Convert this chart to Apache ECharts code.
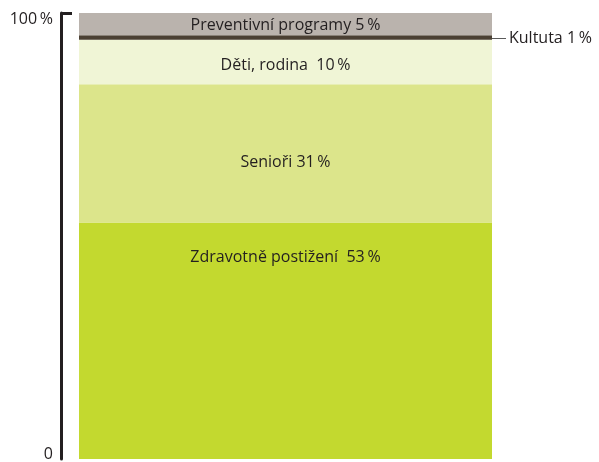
<!DOCTYPE html>
<html>
<head>
<meta charset="utf-8">
<script src="https://cdn.jsdelivr.net/npm/echarts@6/dist/echarts.min.js"></script>
<style>
    html, body { margin: 0; padding: 0; background: #fff; }
    #chart { width: 599px; height: 462px; }
</style>
</head>
<body>
<div id="chart"></div>
<script>
// segments, bottom to top
var names = ["Zdravotně postižení", "Senioři", "Děti, rodina", "Kultuta", "Preventivní programy"];
var values = [53, 31, 10, 1, 5];
var labels = ["Zdravotně postižení  53\u2009%", "Senioři 31\u2009%", "Děti, rodina  10\u2009%", "Kultuta 1\u2009%", "Preventivní programy 5\u2009%"];
var colors = ["#c3d92f", "#dce58b", "#f0f5d6", "#4b4033", "#bab3ad"];
var yTicks = [0, 100];

var chart = echarts.init(document.getElementById("chart"));

var font = "'Open Sans', sans-serif";
var fs = 16;
var labelCfg = [
    { show: true, position: "insideTop", distance: 27 },
    { show: true, position: "inside", offset: [0, 9] },
    { show: true, position: "inside", offset: [0, 3] },
    {
        show: true, position: "right", distance: 0, offset: [0, 1],
        formatter: "{line|}{t|" + labels[3] + "}",
        rich: {
            line: { width: 14, height: 1, backgroundColor: "#555" },
            t: { fontSize: fs, fontFamily: font, color: "#231f20", padding: [0, 0, 0, 3] }
        }
    },
    { show: true, position: "inside", offset: [0, 1] }
];

var series = names.map(function (n, i) {
    var lab = Object.assign({
        color: "#231f20",
        fontSize: fs,
        fontFamily: font,
        formatter: labels[i]
    }, labelCfg[i]);
    return {
        name: n,
        type: "bar",
        stack: "total",
        barWidth: 413,
        data: [values[i]],
        itemStyle: { color: colors[i] },
        label: lab,
        emphasis: { disabled: true }
    };
});

var option = {
    animation: false,
    grid: { left: 61, right: 89, top: 13, bottom: 0 },
    xAxis: {
        type: "category",
        data: ["Celkem"],
        show: false
    },
    yAxis: {
        type: "value",
        min: 0,
        max: 100,
        interval: 100,
        splitLine: { show: false },
        axisLine: { show: true, lineStyle: { color: "#231f20", width: 3 } },
        // only the top tick is drawn, the bottom one runs off the picture
        axisTick: { show: true, inside: true, length: 11, customValues: [yTicks[1]], lineStyle: { color: "#231f20", width: 3 } },
        axisLabel: {
            margin: 8,
            fontFamily: font,
            fontSize: fs,
            color: "#231f20",
            formatter: function (v) {
                if (v === yTicks[1]) return "{top|" + v + "\u2009%}";
                return "{bot|" + v + "}";
            },
            rich: {
                top: { fontSize: fs, fontFamily: font, color: "#231f20", padding: [12, 0, 0, 0] },
                bot: { fontSize: fs, fontFamily: font, color: "#231f20", padding: [0, 0, 10, 0] }
            }
        }
    },
    series: series
};

chart.setOption(option);
</script>
</body>
</html>
